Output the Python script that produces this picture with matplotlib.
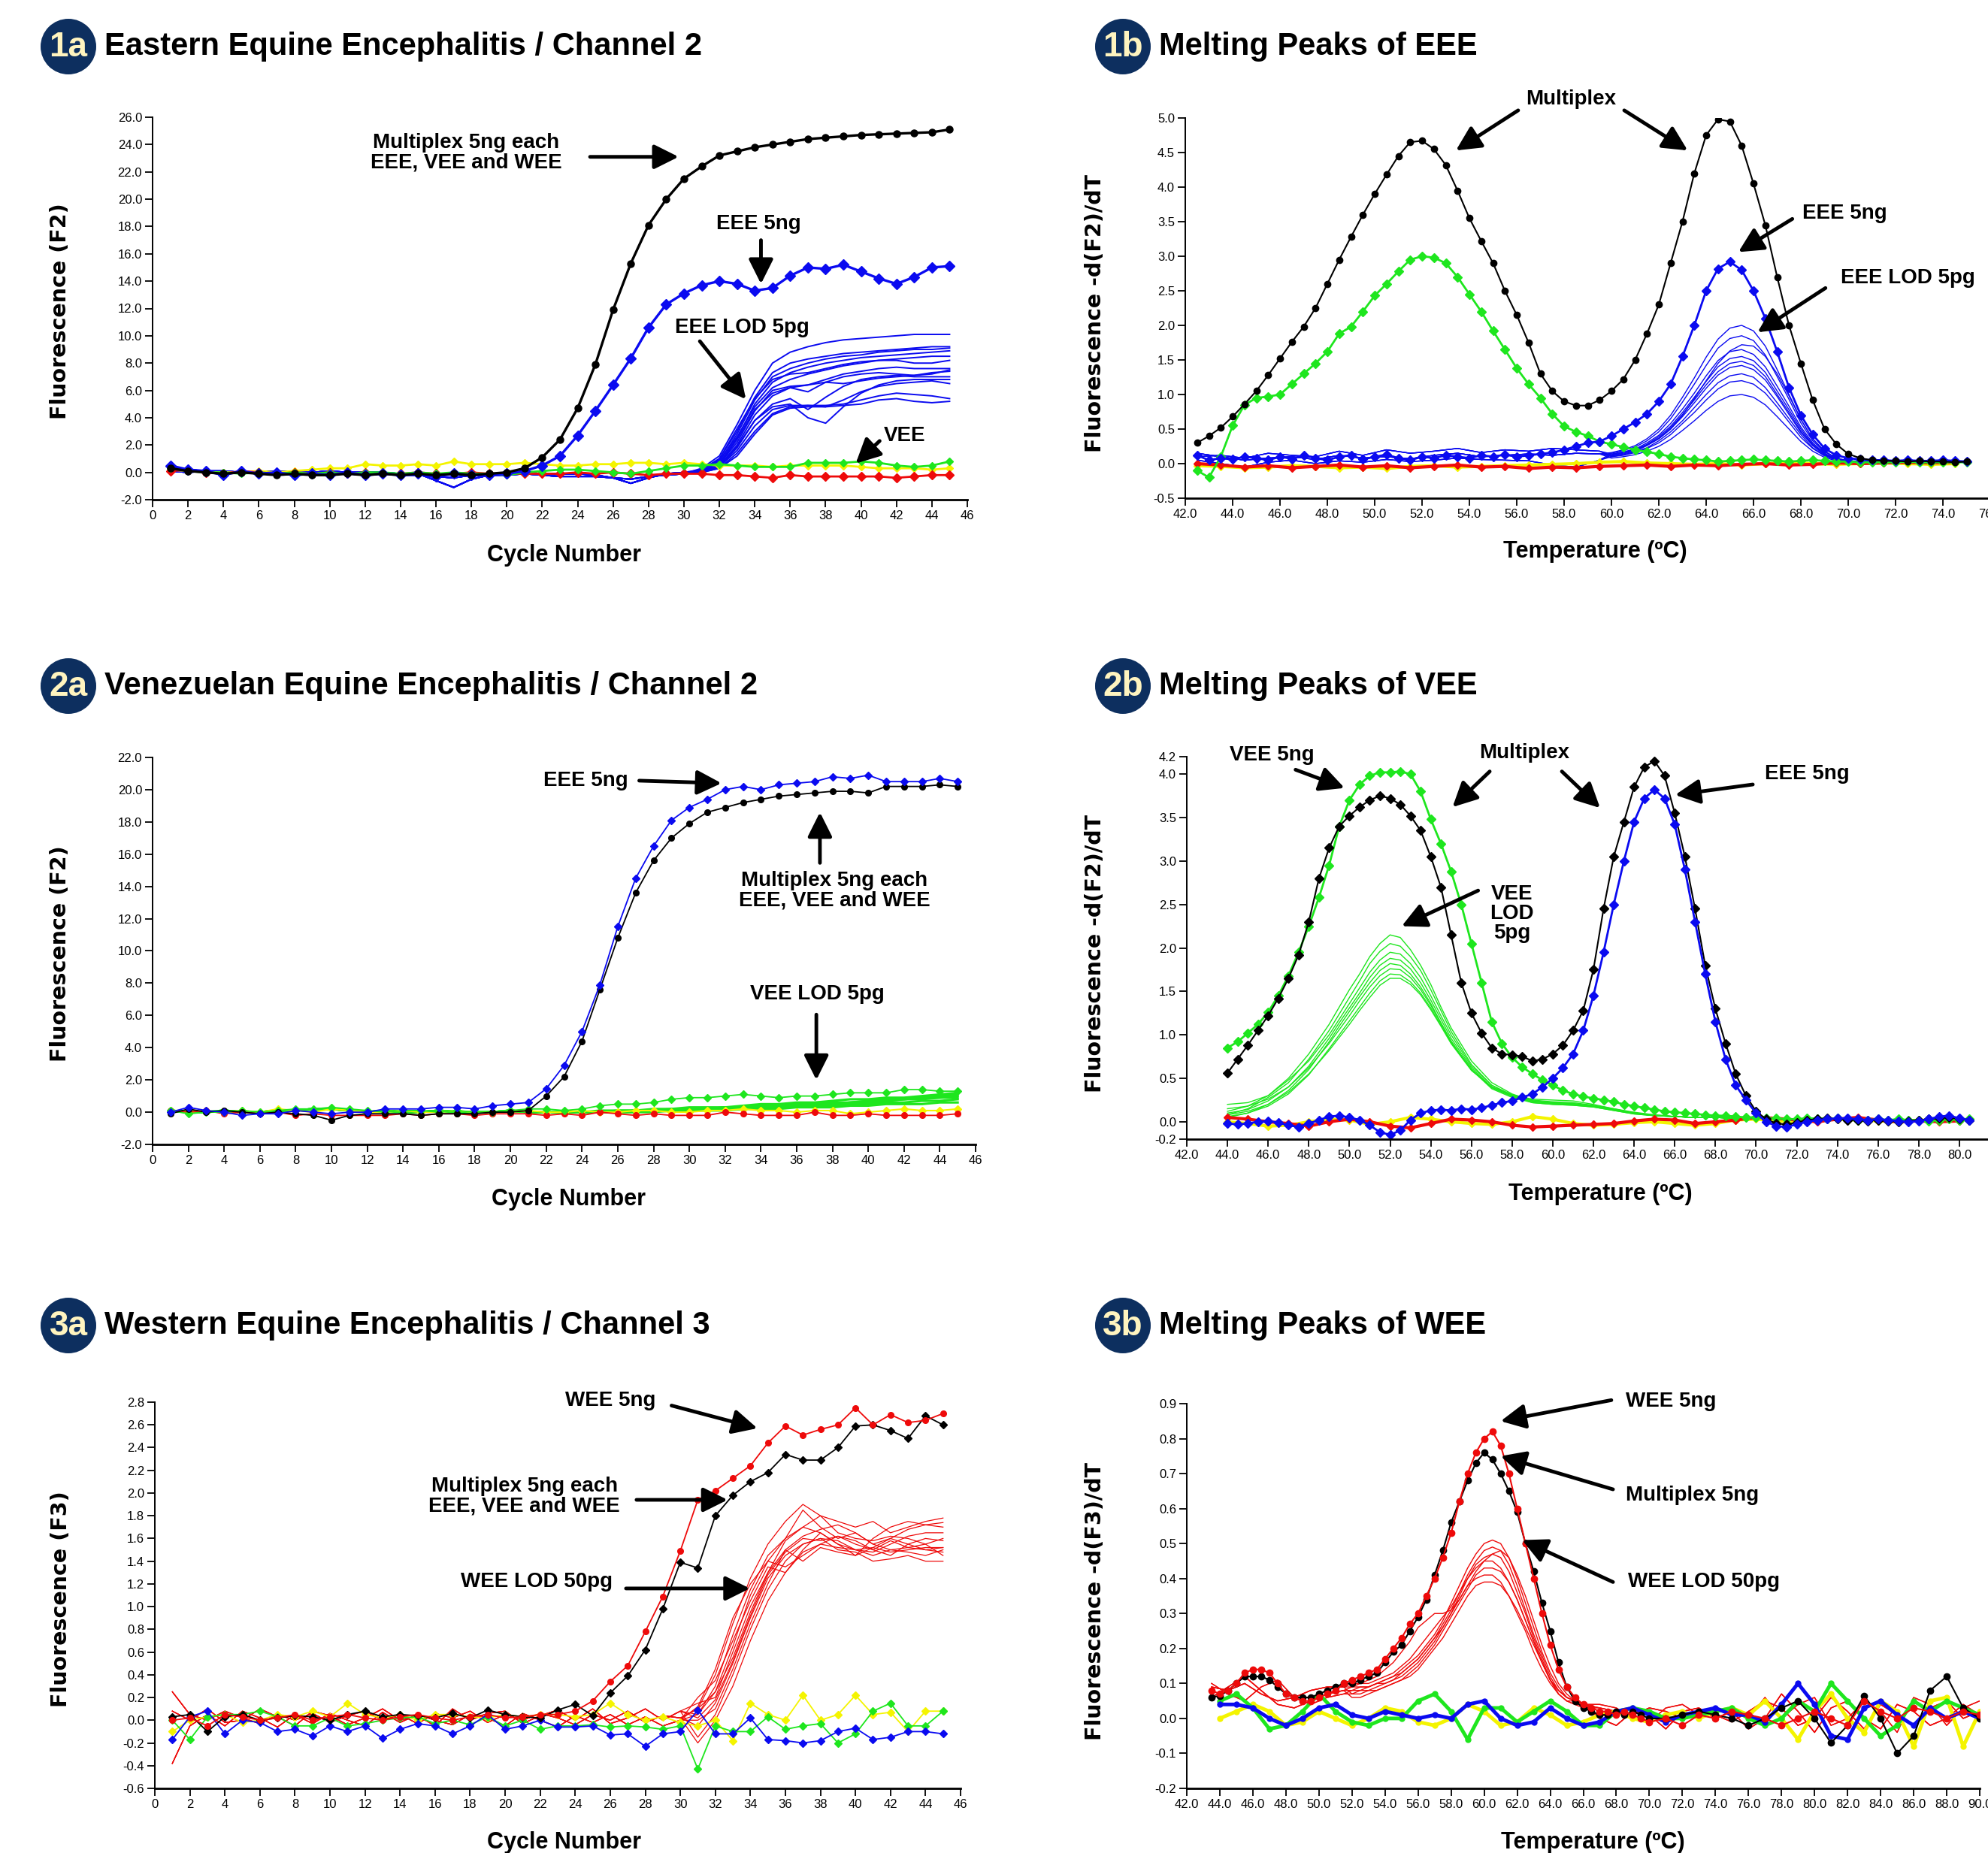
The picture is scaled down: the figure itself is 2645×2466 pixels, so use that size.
import numpy as np
import matplotlib
matplotlib.use("Agg")
import matplotlib.pyplot as plt
from matplotlib.patches import Ellipse

plt.rcParams['font.family'] = ['Liberation Sans', 'DejaVu Sans']

W, H = 2645, 2466

BLACK = '#000000'
BLUE = '#0a0af0'
GREEN = '#1ee61e'
RED = '#ee0a0a'
YELLOW = '#f4f400'
NAVY = '#0d2f5f'
CREAM = '#fff4bf'

# ---------------- 1a: EEE amplification (cycles 1..45) ----------------
cycles = np.arange(1, 46)

mpx_1a = [0.3, 0.1, 0.0, -0.1, 0.0, -0.1, -0.2, -0.1, -0.2, -0.2,
          -0.1, -0.2, -0.1, -0.2, -0.1, -0.2, -0.1, -0.2, -0.1, 0.0,
          0.3, 1.1, 2.4, 4.7, 7.9, 11.9, 15.3, 18.1, 20.0, 21.5,
          22.4, 23.2, 23.5, 23.8, 24.0, 24.2, 24.4, 24.5, 24.6, 24.7,
          24.75, 24.8, 24.85, 24.9, 25.1]
eee5_1a = [0.5, 0.2, 0.1, -0.2, 0.1, -0.1, 0.0, -0.2, -0.1, -0.2,
           0.0, -0.2, -0.1, -0.2, -0.1, -0.3, -0.1, -0.2, -0.2, -0.1,
           0.1, 0.5, 1.2, 2.7, 4.5, 6.4, 8.35, 10.6, 12.3, 13.1,
           13.7, 14.0, 13.8, 13.3, 13.5, 14.4, 15.0, 14.9, 15.2, 14.7,
           14.2, 13.8, 14.3, 15.0, 15.1]
vee_1a = [0.3, 0.1, 0.0, 0.0, -0.1, 0.0, -0.1, 0.0, -0.1, 0.0,
          -0.1, 0.0, 0.0, -0.1, 0.0, -0.1, 0.0, -0.1, -0.1, -0.2,
          0.0, 0.1, 0.2, 0.2, 0.1, 0.0, -0.1, 0.1, 0.3, 0.5,
          0.5, 0.6, 0.5, 0.4, 0.4, 0.4, 0.7, 0.7, 0.7, 0.8,
          0.7, 0.5, 0.4, 0.5, 0.8]
yellow_1a = [0.2, 0.1, 0.0, 0.0, 0.0, 0.1, 0.0, 0.1, 0.2, 0.3,
             0.3, 0.6, 0.5, 0.5, 0.6, 0.5, 0.8, 0.6, 0.6, 0.6,
             0.7, 0.6, 0.5, 0.5, 0.6, 0.6, 0.7, 0.7, 0.6, 0.7,
             0.6, 0.5, 0.5, 0.5, 0.4, 0.5, 0.5, 0.5, 0.5, 0.4,
             0.3, 0.3, 0.3, 0.2, 0.3]
red_1a = [0.1, 0.2, 0.0, -0.1, 0.1, 0.0, -0.1, 0.0, -0.1, 0.0,
          -0.1, 0.0, -0.1, -0.1, 0.0, -0.1, -0.1, 0.0, -0.1, -0.1,
          -0.1, -0.1, -0.1, 0.0, -0.1, 0.0, -0.1, -0.2, -0.1, -0.1,
          -0.1, -0.2, -0.2, -0.3, -0.4, -0.2, -0.3, -0.3, -0.3, -0.3,
          -0.3, -0.4, -0.3, -0.2, -0.2]
# EEE LOD 5pg replicates: baselines for cycles 1..30, individual curves for 31..45
lod_1a_base = [
    [0.4, 0.2, 0.1, 0.0, 0.0, -0.1, -0.1, -0.2, -0.1, -0.1, -0.1, -0.2, -0.1, -0.2, -0.2,
     -0.3, -0.4, -0.2, -0.2, -0.2, -0.1, -0.2, -0.3, -0.3, -0.3, -0.4, -0.5, -0.3, -0.2, -0.1],
    [0.1, 0.0, 0.1, 0.1, 0.0, 0.0, 0.1, 0.0, 0.0, 0.1, 0.0, 0.0, 0.0, -0.1, -0.1,
     -0.6, -1.1, -0.5, -0.2, -0.1, 0.0, -0.1, -0.1, -0.1, -0.2, -0.4, -0.8, -0.4, -0.1, 0.0],
]
lod_1a_rise = [
    [0.3, 1.2, 3.5, 6.0, 8.0, 8.8, 9.2, 9.5, 9.7, 9.8, 9.9, 10.0, 10.1, 10.1, 10.1],
    [0.2, 1.0, 3.0, 5.5, 7.3, 8.0, 8.3, 8.5, 8.7, 8.8, 8.9, 9.0, 9.1, 9.2, 9.2],
    [0.2, 0.8, 2.8, 5.3, 7.0, 7.6, 8.0, 8.3, 8.5, 8.6, 8.8, 8.9, 9.0, 9.0, 9.1],
    [0.1, 0.7, 2.5, 5.0, 6.6, 7.3, 7.7, 8.0, 8.2, 8.4, 8.5, 8.6, 8.7, 8.8, 8.9],
    [0.2, 0.9, 2.6, 4.8, 6.2, 6.8, 7.2, 7.5, 7.8, 8.0, 8.2, 8.3, 8.4, 8.5, 8.5],
    [0.1, 0.6, 2.2, 4.5, 6.0, 6.3, 6.4, 6.8, 7.2, 7.4, 7.6, 7.7, 7.6, 7.6, 7.6],
    [0.1, 0.5, 2.0, 4.2, 5.6, 6.2, 5.9, 6.6, 7.0, 7.2, 7.3, 7.2, 7.1, 7.3, 7.4],
    [0.1, 0.4, 1.8, 3.8, 5.0, 5.4, 4.6, 5.5, 6.3, 6.8, 7.0, 7.1, 7.0, 7.0, 7.0],
    [0.1, 0.5, 1.9, 3.8, 4.8, 5.0, 4.0, 3.6, 4.8, 5.8, 6.4, 6.7, 6.8, 6.8, 6.8],
    [0.0, 0.4, 1.6, 3.4, 4.6, 4.9, 4.9, 4.8, 5.3, 5.9, 6.3, 6.5, 6.6, 6.7, 6.5],
    [0.0, 0.3, 1.4, 3.0, 4.3, 4.8, 4.9, 4.9, 5.0, 5.3, 5.6, 5.8, 5.7, 5.6, 5.4],
    [0.0, 0.3, 1.2, 2.8, 4.2, 4.7, 4.8, 4.8, 4.9, 5.0, 5.3, 5.4, 5.2, 5.1, 5.2],
    [0.2, 1.0, 3.2, 5.4, 6.8, 7.2, 7.3, 7.6, 7.9, 8.1, 8.2, 8.2, 8.0, 8.0, 8.2],
    [0.1, 0.6, 2.4, 4.6, 5.8, 6.2, 6.4, 6.6, 6.5, 6.7, 6.9, 7.0, 7.1, 7.2, 7.5],
]

# ---------------- 1b: EEE melting peaks ----------------
t_1b = np.arange(42.5, 75.01, 0.5)
t_1b_coarse = np.arange(42.5, 75.01, 1.0)
mpx_1b = [0.30, 0.40, 0.52, 0.68, 0.86, 1.05, 1.28, 1.52, 1.76, 1.98,
          2.25, 2.60, 2.95, 3.28, 3.60, 3.90, 4.18, 4.45, 4.65, 4.67,
          4.55, 4.32, 3.95, 3.55, 3.22, 2.90, 2.50, 2.15, 1.75, 1.30,
          1.05, 0.90, 0.84, 0.84, 0.92, 1.05, 1.22, 1.50, 1.88, 2.30,
          2.90, 3.50, 4.20, 4.75, 4.98, 4.95, 4.60, 4.05, 3.45, 2.70,
          2.00, 1.45, 0.92, 0.50, 0.28, 0.14, 0.08, 0.05, 0.04, 0.04,
          0.03, 0.04, 0.03, 0.03, 0.02, 0.03]
vee_1b = [-0.10, -0.20, 0.10, 0.55, 0.85, 0.95, 0.97, 1.00, 1.15, 1.30,
          1.45, 1.62, 1.88, 1.98, 2.20, 2.43, 2.60, 2.78, 2.95, 3.00,
          2.98, 2.90, 2.70, 2.45, 2.20, 1.92, 1.65, 1.38, 1.15, 0.95,
          0.72, 0.54, 0.46, 0.40, 0.32, 0.28, 0.24, 0.20, 0.17, 0.14,
          0.10, 0.08, 0.06, 0.05, 0.03, 0.04, 0.05, 0.06, 0.05, 0.04,
          0.03, 0.04, 0.05, 0.04, 0.03, 0.03, 0.02, 0.02, 0.02, 0.02,
          0.03, 0.02, 0.02, 0.02, 0.02, 0.02]
eee5_1b = [0.12, 0.05, 0.08, 0.06, 0.10, 0.08, 0.05, 0.10, 0.07, 0.12,
           0.08, 0.05, 0.10, 0.12, 0.06, 0.10, 0.13, 0.08, 0.05, 0.10,
           0.08, 0.12, 0.10, 0.08, 0.12, 0.10, 0.13, 0.10, 0.12, 0.14,
           0.16, 0.20, 0.25, 0.30, 0.32, 0.40, 0.50, 0.60, 0.72, 0.90,
           1.15, 1.55, 2.00, 2.50, 2.82, 2.92, 2.80, 2.50, 2.10, 1.62,
           1.10, 0.70, 0.42, 0.22, 0.12, 0.08, 0.06, 0.05, 0.05, 0.04,
           0.05, 0.04, 0.04, 0.05, 0.04, 0.03]
red_1b = [0.00, -0.02, -0.05, -0.03, -0.06, -0.04, -0.02, -0.05, -0.03, -0.06,
          -0.04, -0.02, -0.05, -0.04, -0.07, -0.05, -0.06, -0.04, -0.03, -0.02,
          -0.04, -0.02, -0.03, -0.01, 0.00, -0.02, -0.01, 0.01, 0.00, 0.01,
          0.02, 0.01, 0.02]
yellow_1b = [-0.03, -0.04, -0.06, -0.05, -0.03, -0.04, -0.06, -0.05, -0.07, -0.04,
             -0.03, -0.05, -0.04, -0.03, -0.02, -0.01, 0.00, 0.02, 0.03, 0.01,
             0.00, -0.01, 0.00, -0.02, 0.00, 0.01, 0.00, -0.01, 0.00, 0.01,
             0.00, -0.01, 0.00]
# EEE LOD replicates: baseline 42.5..59.5 (1 degC), peak 60..70 (0.5 degC), tail 71..75
t_1b_lod = np.concatenate([np.arange(42.5, 59.6, 1.0), np.arange(60.0, 70.01, 0.5),
                           np.arange(71.0, 75.01, 1.0)])
lod_1b_base = [
    [0.15, 0.10, 0.05, 0.08, 0.10, 0.06, 0.12, 0.08, 0.10, 0.07, 0.12, 0.15, 0.10, 0.12, 0.14, 0.12, 0.15, 0.14],
    [0.05, 0.00, -0.05, 0.02, 0.05, 0.00, 0.04, 0.02, 0.06, 0.03, 0.05, 0.08, 0.06, 0.05, 0.04, -0.02, -0.05, 0.05],
    [0.10, 0.12, 0.08, 0.15, 0.12, 0.10, 0.18, 0.12, 0.20, 0.15, 0.18, 0.22, 0.16, 0.20, 0.18, 0.22, 0.20, 0.18],
]
lod_1b_peak = [
    [0.16, 0.20, 0.26, 0.36, 0.50, 0.70, 0.96, 1.24, 1.54, 1.80, 1.96, 2.00, 1.92, 1.70, 1.36, 1.00, 0.64, 0.36, 0.18, 0.08, 0.04],
    [0.15, 0.19, 0.24, 0.33, 0.46, 0.65, 0.89, 1.15, 1.42, 1.67, 1.81, 1.85, 1.78, 1.57, 1.26, 0.93, 0.59, 0.33, 0.17, 0.08, 0.04],
    [0.14, 0.17, 0.20, 0.27, 0.36, 0.50, 0.70, 0.94, 1.20, 1.45, 1.63, 1.72, 1.70, 1.55, 1.30, 0.98, 0.64, 0.36, 0.18, 0.08, 0.03],
    [0.13, 0.17, 0.21, 0.30, 0.41, 0.58, 0.79, 1.02, 1.27, 1.49, 1.62, 1.65, 1.58, 1.40, 1.12, 0.83, 0.53, 0.30, 0.15, 0.07, 0.03],
    [0.12, 0.16, 0.20, 0.28, 0.39, 0.54, 0.74, 0.96, 1.19, 1.40, 1.52, 1.55, 1.49, 1.32, 1.05, 0.78, 0.50, 0.28, 0.14, 0.06, 0.03],
    [0.12, 0.15, 0.19, 0.27, 0.37, 0.52, 0.71, 0.92, 1.14, 1.33, 1.45, 1.48, 1.42, 1.26, 1.00, 0.74, 0.47, 0.27, 0.13, 0.06, 0.03],
    [0.11, 0.14, 0.18, 0.26, 0.36, 0.50, 0.68, 0.88, 1.09, 1.28, 1.39, 1.42, 1.36, 1.21, 0.97, 0.71, 0.45, 0.26, 0.13, 0.06, 0.03],
    [0.10, 0.13, 0.17, 0.23, 0.33, 0.46, 0.62, 0.81, 1.00, 1.17, 1.27, 1.30, 1.25, 1.10, 0.88, 0.65, 0.42, 0.23, 0.12, 0.05, 0.03],
    [0.10, 0.12, 0.16, 0.22, 0.30, 0.42, 0.58, 0.74, 0.92, 1.08, 1.18, 1.20, 1.15, 1.02, 0.82, 0.60, 0.38, 0.22, 0.11, 0.05, 0.02],
    [0.08, 0.10, 0.13, 0.18, 0.25, 0.35, 0.48, 0.62, 0.77, 0.90, 0.98, 1.00, 0.96, 0.85, 0.68, 0.50, 0.32, 0.18, 0.09, 0.04, 0.02],
]
lod_1b_tail = [0.03, 0.02, 0.03, 0.02, 0.03]

# ---------------- 2a: VEE amplification ----------------
eee5_2a = [0.0, 0.3, 0.1, 0.0, -0.2, -0.1, -0.1, 0.1, 0.0, -0.1,
           0.0, 0.0, 0.2, 0.2, 0.2, 0.3, 0.3, 0.2, 0.4, 0.5,
           0.6, 1.45, 2.9, 5.0, 7.9, 11.5, 14.5, 16.5, 18.1, 18.9,
           19.4, 20.0, 20.2, 20.0, 20.3, 20.4, 20.5, 20.8, 20.7, 20.9,
           20.5, 20.5, 20.5, 20.7, 20.5]
mpx_2a = [-0.1, 0.2, 0.0, 0.1, 0.0, -0.1, 0.0, -0.1, -0.2, -0.5,
          -0.2, -0.1, -0.1, -0.1, -0.2, -0.1, -0.1, -0.1, 0.0, 0.0,
          0.1, 1.0, 2.2, 4.4, 7.6, 10.8, 13.6, 15.6, 17.0, 17.9,
          18.6, 18.9, 19.2, 19.4, 19.6, 19.7, 19.8, 19.9, 19.9, 19.8,
          20.2, 20.2, 20.2, 20.3, 20.2]
vee_mark_2a = [0.1, -0.1, 0.0, 0.0, 0.1, 0.0, 0.1, 0.2, 0.2, 0.3,
               0.2, 0.1, 0.0, 0.1, 0.1, 0.0, 0.1, 0.0, 0.0, 0.1,
               0.2, 0.2, 0.1, 0.2, 0.4, 0.5, 0.5, 0.6, 0.8, 0.9,
               0.9, 1.0, 1.1, 1.0, 0.9, 1.0, 1.0, 1.1, 1.2, 1.2,
               1.2, 1.4, 1.4, 1.3, 1.3]
red_2a = [0.1, 0.0, 0.1, -0.1, 0.0, -0.1, 0.0, -0.2, -0.1, -0.2,
          -0.2, -0.2, -0.2, -0.1, -0.2, -0.1, -0.1, -0.2, -0.1, -0.1,
          -0.1, -0.2, -0.1, -0.2, 0.0, -0.1, -0.2, -0.1, -0.2, -0.2,
          -0.2, 0.0, -0.1, -0.2, -0.2, -0.2, 0.0, -0.2, -0.2, -0.1,
          -0.2, -0.2, -0.2, -0.2, -0.1]
yellow_2a = [0.1, 0.0, 0.1, 0.0, 0.1, 0.0, 0.2, 0.1, 0.0, 0.2,
             0.1, 0.0, 0.0, 0.1, 0.0, 0.0, 0.1, 0.0, 0.0, 0.0,
             0.1, 0.0, 0.0, 0.1, 0.0, 0.0, 0.1, 0.1, 0.0, 0.0,
             0.1, 0.1, 0.2, 0.1, 0.1, 0.0, 0.1, 0.1, -0.1, 0.0,
             0.1, 0.2, 0.1, 0.1, 0.2]
# VEE LOD replicates: shared baseline cycles 1..24, individual 25..45
lod_2a_base = [0.1, 0.0, 0.0, 0.1, 0.0, 0.0, 0.1, 0.1, 0.2, 0.2, 0.1, 0.0,
               0.1, 0.0, 0.0, 0.1, 0.0, 0.0, 0.0, 0.1, 0.0, 0.0, 0.0, 0.0]
lod_2a_rise = [
    [0.0, 0.0, 0.1, 0.1, 0.1, 0.2, 0.2, 0.3, 0.3, 0.4, 0.4, 0.5, 0.5, 0.6, 0.6, 0.7, 0.7, 0.8, 0.9, 0.9, 1.0],
    [0.0, 0.1, 0.1, 0.1, 0.2, 0.2, 0.2, 0.3, 0.3, 0.4, 0.4, 0.4, 0.5, 0.5, 0.6, 0.7, 0.8, 0.8, 0.9, 1.0, 1.1],
    [0.0, 0.0, 0.0, 0.1, 0.1, 0.1, 0.2, 0.2, 0.2, 0.3, 0.3, 0.4, 0.4, 0.4, 0.5, 0.5, 0.6, 0.6, 0.7, 0.7, 0.8],
    [0.1, 0.1, 0.1, 0.2, 0.2, 0.3, 0.3, 0.3, 0.4, 0.5, 0.5, 0.6, 0.6, 0.7, 0.8, 0.8, 0.9, 0.9, 1.0, 1.1, 1.2],
    [0.0, 0.0, 0.0, 0.0, 0.1, 0.1, 0.1, 0.1, 0.2, 0.2, 0.2, 0.3, 0.3, 0.3, 0.4, 0.4, 0.5, 0.5, 0.5, 0.6, 0.6],
    [0.0, 0.0, 0.1, 0.1, 0.1, 0.1, 0.2, 0.2, 0.3, 0.3, 0.3, 0.4, 0.5, 0.5, 0.6, 0.6, 0.7, 0.8, 0.8, 0.9, 0.9],
]

# ---------------- 2b: VEE melting peaks ----------------
t_2b = np.arange(44.0, 80.51, 0.5)
t_2b_coarse = np.arange(44.0, 80.1, 1.0)
vee5_2b = [0.85, 0.92, 1.02, 1.12, 1.26, 1.45, 1.68, 1.95, 2.25, 2.58,
           2.95, 3.40, 3.70, 3.88, 3.98, 4.02, 4.02, 4.03, 4.00, 3.80,
           3.48, 3.20, 2.88, 2.50, 2.05, 1.60, 1.15, 0.90, 0.74, 0.63,
           0.55, 0.48, 0.42, 0.36, 0.32, 0.29, 0.27, 0.25, 0.23, 0.20,
           0.18, 0.16, 0.14, 0.12, 0.11, 0.10, 0.09, 0.08, 0.07, 0.07,
           0.06, 0.05, 0.05, 0.04, 0.04, 0.03, 0.03, 0.04, 0.03, 0.03,
           0.04, 0.03, 0.02, 0.02, 0.03, 0.02, 0.03, 0.02, 0.02, 0.01,
           0.02, 0.03, 0.02, 0.03]
mpx_2b = [0.56, 0.72, 0.88, 1.05, 1.22, 1.42, 1.65, 1.92, 2.30, 2.80,
          3.15, 3.40, 3.52, 3.62, 3.70, 3.75, 3.72, 3.65, 3.52, 3.35,
          3.05, 2.70, 2.15, 1.60, 1.25, 1.02, 0.85, 0.78, 0.77, 0.75,
          0.70, 0.72, 0.78, 0.88, 1.05, 1.28, 1.75, 2.45, 3.05, 3.45,
          3.85, 4.08, 4.15, 3.98, 3.55, 3.05, 2.45, 1.80, 1.30, 0.90,
          0.55, 0.30, 0.12, 0.03, -0.02, -0.03, -0.01, 0.02, 0.03, 0.04,
          0.03, 0.02, 0.02, 0.01, 0.02, 0.01, 0.00, 0.01, 0.02, 0.03,
          0.04, 0.05, 0.03, 0.02]
eee5_2b = [-0.02, -0.03, -0.02, 0.00, 0.01, -0.01, -0.04, -0.06, -0.02, 0.02,
           0.06, 0.07, 0.05, 0.02, -0.04, -0.12, -0.15, -0.10, 0.02, 0.10,
           0.13, 0.14, 0.13, 0.15, 0.14, 0.16, 0.19, 0.22, 0.24, 0.28,
           0.32, 0.40, 0.50, 0.62, 0.78, 1.05, 1.45, 1.95, 2.50, 3.00,
           3.45, 3.72, 3.82, 3.72, 3.42, 2.90, 2.30, 1.70, 1.15, 0.72,
           0.42, 0.25, 0.10, 0.00, -0.05, -0.06, -0.03, 0.00, 0.02, 0.03,
           0.04, 0.04, 0.03, 0.02, 0.03, 0.02, 0.01, 0.00, 0.01, 0.03,
           0.06, 0.07, 0.04, 0.02]
red_2b = [0.05, 0.03, 0.00, -0.02, -0.05, 0.00, 0.03, 0.00, -0.05, -0.07,
          -0.02, 0.03, 0.02, 0.00, -0.04, -0.06, -0.05, -0.04, -0.03, -0.02,
          0.01, 0.03, 0.02, -0.02, 0.00, 0.02, 0.05, 0.04, 0.02, 0.00,
          0.03, 0.05, 0.02, 0.00, 0.01, 0.00, 0.01]
yellow_2b = [0.00, -0.02, -0.05, -0.04, 0.00, 0.03, 0.02, -0.03, 0.00, 0.05,
             0.03, 0.00, -0.02, -0.03, 0.00, 0.06, 0.03, -0.02, -0.04, -0.03,
             -0.01, 0.00, -0.02, -0.04, -0.02, 0.02, 0.03, 0.01, 0.00, 0.02,
             0.03, 0.02, 0.01, 0.00, 0.02, 0.01, 0.02]
t_2b_lod = np.array([44, 45, 46, 47, 48, 49, 49.5, 50, 50.5, 51, 51.5, 52, 52.5, 53, 53.5,
                     54, 54.5, 55, 56, 57, 58, 59, 60, 61, 62, 63, 64, 65,
                     66, 67, 68, 69, 70, 71, 72, 73, 74, 75, 76, 77, 78, 79, 80])
lod_2b_peak = [
    [0.12, 0.18, 0.30, 0.50, 0.78, 1.12, 1.32, 1.52, 1.70, 1.90, 2.05, 2.15, 2.12, 1.98, 1.80, 1.58, 1.32, 1.08, 0.70, 0.45, 0.32, 0.24, 0.21, 0.20, 0.18, 0.14, 0.10, 0.08],
    [0.08, 0.15, 0.28, 0.45, 0.72, 1.05, 1.24, 1.43, 1.62, 1.82, 1.96, 2.05, 2.02, 1.90, 1.74, 1.52, 1.28, 1.04, 0.66, 0.42, 0.30, 0.22, 0.20, 0.19, 0.17, 0.13, 0.09, 0.07],
    [0.20, 0.22, 0.30, 0.48, 0.70, 1.00, 1.18, 1.36, 1.54, 1.72, 1.86, 1.95, 1.93, 1.82, 1.66, 1.45, 1.22, 1.00, 0.64, 0.42, 0.31, 0.25, 0.23, 0.22, 0.19, 0.15, 0.11, 0.08],
    [0.10, 0.14, 0.24, 0.40, 0.64, 0.96, 1.14, 1.31, 1.48, 1.66, 1.80, 1.88, 1.86, 1.76, 1.60, 1.40, 1.18, 0.96, 0.62, 0.40, 0.30, 0.24, 0.22, 0.21, 0.18, 0.14, 0.10, 0.07],
    [0.05, 0.10, 0.20, 0.36, 0.60, 0.92, 1.10, 1.27, 1.44, 1.60, 1.74, 1.82, 1.80, 1.70, 1.55, 1.36, 1.14, 0.93, 0.60, 0.38, 0.28, 0.22, 0.20, 0.19, 0.17, 0.13, 0.09, 0.07],
    [0.15, 0.18, 0.26, 0.40, 0.62, 0.90, 1.06, 1.22, 1.39, 1.55, 1.68, 1.76, 1.75, 1.66, 1.52, 1.34, 1.13, 0.92, 0.60, 0.39, 0.29, 0.23, 0.21, 0.20, 0.18, 0.14, 0.10, 0.07],
    [0.06, 0.10, 0.18, 0.32, 0.54, 0.84, 1.00, 1.16, 1.32, 1.48, 1.62, 1.70, 1.69, 1.61, 1.48, 1.31, 1.11, 0.91, 0.60, 0.40, 0.31, 0.26, 0.25, 0.24, 0.20, 0.15, 0.10, 0.07],
    [0.08, 0.12, 0.20, 0.34, 0.55, 0.82, 0.97, 1.12, 1.28, 1.43, 1.57, 1.65, 1.65, 1.58, 1.46, 1.29, 1.10, 0.90, 0.59, 0.40, 0.30, 0.24, 0.22, 0.21, 0.18, 0.14, 0.10, 0.07],
]
lod_2b_tail = [0.06, 0.05, 0.05, 0.04, 0.04, 0.03, 0.03, 0.04, 0.03, 0.02, 0.03, 0.02, 0.02, 0.03, 0.02]

# ---------------- 3a: WEE amplification ----------------
wee5_3a = [0.0, 0.02, -0.05, 0.05, 0.03, 0.0, 0.02, 0.05, 0.0, 0.03,
           0.05, 0.02, 0.0, 0.03, 0.05, 0.02, 0.0, 0.03, 0.05, 0.02,
           0.03, 0.05, 0.05, 0.08, 0.17, 0.34, 0.48, 0.78, 1.09, 1.49,
           1.94, 2.02, 2.13, 2.24, 2.44, 2.59, 2.51, 2.56, 2.60, 2.75,
           2.60, 2.69, 2.62, 2.64, 2.70]
mpx_3a = [0.03, 0.05, -0.10, 0.03, 0.05, 0.0, 0.02, 0.04, 0.03, 0.0,
          0.05, 0.08, 0.03, 0.05, 0.04, 0.02, 0.06, 0.02, 0.09, 0.05,
          0.03, 0.02, 0.09, 0.14, 0.04, 0.24, 0.39, 0.62, 0.98, 1.39,
          1.34, 1.80, 1.98, 2.10, 2.18, 2.34, 2.29, 2.29, 2.40, 2.59,
          2.60, 2.55, 2.48, 2.68, 2.60]
yellow_3a = [-0.10, 0.0, 0.03, 0.05, -0.02, 0.0, 0.05, 0.03, 0.08, 0.03,
             0.15, 0.05, 0.02, 0.05, 0.0, 0.05, 0.05, 0.03, 0.02, 0.05,
             0.03, 0.05, 0.05, 0.03, 0.05, 0.15, 0.05, 0.0, 0.03, -0.02,
             -0.05, 0.0, -0.18, 0.15, 0.05, 0.0, 0.22, 0.0, 0.05, 0.22,
             0.05, 0.07, -0.10, 0.08, 0.08]
green_3a = [0.0, -0.17, 0.03, 0.05, 0.05, 0.08, 0.03, -0.05, -0.05, 0.02,
            -0.05, -0.03, 0.0, 0.02, 0.03, -0.03, 0.0, -0.04, 0.03, -0.05,
            0.0, -0.08, -0.05, -0.05, -0.04, -0.06, -0.05, -0.06, -0.08, -0.05,
            -0.43, -0.05, -0.10, -0.10, 0.03, -0.08, -0.05, -0.03, -0.20, -0.12,
            0.08, 0.15, -0.05, -0.05, 0.08]
blue_3a = [-0.17, 0.03, 0.08, -0.12, 0.0, -0.02, -0.10, -0.08, -0.14, -0.05,
           -0.10, -0.05, -0.16, -0.08, -0.03, -0.05, -0.12, -0.05, 0.05, -0.08,
           -0.05, 0.0, -0.06, -0.06, -0.05, -0.13, -0.12, -0.23, -0.12, -0.10,
           0.09, -0.12, -0.12, 0.02, -0.17, -0.18, -0.20, -0.18, -0.10, -0.07,
           -0.17, -0.15, -0.10, -0.10, -0.12]
lod_3a_base = [
    [0.25, 0.05, 0.0, 0.08, 0.02, -0.03, 0.05, 0.0, 0.06, -0.02, 0.04, 0.08, 0.0, 0.05, -0.03,
     0.06, 0.02, 0.08, -0.02, 0.05, 0.0, 0.06, 0.02, -0.04, 0.05, 0.0, 0.08, -0.02, 0.04, 0.02],
    [-0.38, -0.05, 0.05, -0.05, 0.08, 0.02, -0.06, 0.05, -0.03, 0.06, 0.0, -0.05, 0.07, -0.02, 0.05,
     0.0, -0.04, 0.05, 0.02, -0.05, 0.06, 0.0, -0.06, 0.04, -0.02, 0.05, -0.04, 0.03, -0.05, 0.0],
    [0.08, 0.0, 0.10, -0.02, 0.0, 0.10, 0.03, -0.05, 0.08, 0.04, -0.04, 0.02, 0.10, 0.0, 0.04,
     -0.05, 0.10, 0.0, 0.06, 0.08, -0.03, 0.04, 0.09, 0.0, 0.10, -0.03, 0.02, 0.10, 0.0, 0.08],
]
lod_3a_rise = [
    [0.10, 0.40, 0.85, 1.25, 1.55, 1.75, 1.90, 1.80, 1.75, 1.70, 1.75, 1.65, 1.70, 1.75, 1.78],
    [0.05, 0.30, 0.75, 1.15, 1.45, 1.60, 1.70, 1.80, 1.65, 1.60, 1.58, 1.62, 1.60, 1.55, 1.60],
    [0.15, 0.20, 0.60, 1.00, 1.30, 1.50, 1.62, 1.68, 1.72, 1.65, 1.55, 1.50, 1.52, 1.50, 1.48],
    [-0.05, 0.15, 0.50, 0.90, 1.25, 1.45, 1.55, 1.60, 1.58, 1.50, 1.52, 1.48, 1.50, 1.52, 1.52],
    [0.20, 0.35, 0.70, 1.05, 1.35, 1.30, 1.50, 1.65, 1.55, 1.45, 1.60, 1.70, 1.75, 1.72, 1.70],
    [-0.15, 0.05, 0.40, 0.80, 1.15, 1.40, 1.55, 1.60, 1.50, 1.48, 1.40, 1.42, 1.45, 1.40, 1.40],
    [0.10, 0.25, 0.65, 1.10, 1.40, 1.35, 1.45, 1.55, 1.62, 1.58, 1.50, 1.45, 1.55, 1.60, 1.58],
    [0.00, 0.10, 0.45, 0.85, 1.20, 1.50, 1.40, 1.52, 1.48, 1.45, 1.52, 1.60, 1.55, 1.50, 1.52],
    [0.05, 0.25, 0.55, 0.95, 1.30, 1.58, 1.70, 1.65, 1.55, 1.50, 1.48, 1.55, 1.62, 1.65, 1.65],
    [-0.20, 0.00, 0.30, 0.70, 1.05, 1.30, 1.48, 1.55, 1.52, 1.50, 1.45, 1.50, 1.48, 1.45, 1.50],
    [0.12, 0.45, 0.90, 1.20, 1.40, 1.60, 1.85, 1.70, 1.60, 1.65, 1.55, 1.60, 1.68, 1.72, 1.74],
    [0.02, 0.18, 0.52, 0.92, 1.28, 1.48, 1.60, 1.58, 1.62, 1.55, 1.50, 1.58, 1.52, 1.55, 1.45],
]

# ---------------- 3b: WEE melting peaks ----------------
t_3b = np.concatenate([np.arange(43.5, 70.01, 0.5), np.arange(71.0, 90.01, 1.0)])
t_3b_coarse = np.arange(44.0, 90.1, 1.0)
wee5_3b = [0.08, 0.07, 0.08, 0.10, 0.13, 0.14, 0.14, 0.13, 0.10, 0.07,
           0.06, 0.05, 0.05, 0.06, 0.07, 0.08, 0.10, 0.11, 0.12, 0.13,
           0.14, 0.17, 0.20, 0.23, 0.27, 0.30, 0.35, 0.40, 0.46, 0.53,
           0.62, 0.70, 0.76, 0.80, 0.82, 0.78, 0.70, 0.60, 0.50, 0.40,
           0.30, 0.21, 0.14, 0.09, 0.06, 0.04, 0.03, 0.02, 0.02, 0.01,
           0.02, 0.01, 0.00, -0.01,
           0.00, -0.02, 0.01, 0.00, 0.02, 0.01, 0.00, -0.02, 0.00, 0.02,
           0.00, -0.02, 0.05, 0.02, 0.00, 0.03, 0.02, 0.00, 0.02, 0.01]
mpx_3b = [0.06, 0.065, 0.08, 0.10, 0.12, 0.12, 0.12, 0.11, 0.09, 0.07,
          0.06, 0.06, 0.06, 0.07, 0.08, 0.09, 0.10, 0.10, 0.11, 0.12,
          0.13, 0.16, 0.19, 0.21, 0.25, 0.29, 0.34, 0.41, 0.48, 0.56,
          0.62, 0.68, 0.73, 0.76, 0.74, 0.70, 0.65, 0.59, 0.50, 0.42,
          0.33, 0.25, 0.16, 0.09, 0.05, 0.03, 0.02, 0.01, 0.01, 0.02,
          0.01, 0.02, 0.01, 0.00,
          0.00, 0.01, 0.02, 0.01, 0.00, -0.02, 0.00, 0.03, 0.05, 0.00,
          -0.07, -0.02, 0.065, 0.00, -0.10, -0.05, 0.08, 0.12, 0.03, 0.00]
green_3b = [0.05, 0.07, 0.03, -0.03, -0.02, 0.02, 0.07, 0.02, -0.01, -0.02,
            0.00, 0.00, 0.05, 0.07, 0.02, -0.06, 0.03, 0.03, -0.01, 0.02,
            0.05, 0.02, -0.02, -0.02, 0.02, 0.03, 0.02, 0.00, 0.00, 0.01,
            0.02, 0.03, 0.00, -0.02, 0.00, 0.05, 0.02, 0.10, 0.05, 0.00,
            -0.05, -0.02, 0.05, 0.02, 0.05, 0.03, 0.01]
blue_3b = [0.04, 0.04, 0.03, 0.00, -0.02, 0.00, 0.03, 0.04, 0.01, 0.00,
           0.02, 0.01, 0.00, 0.01, 0.00, 0.04, 0.05, 0.00, -0.02, -0.01,
           0.03, 0.00, -0.02, -0.01, 0.02, 0.03, 0.01, -0.01, 0.01, 0.02,
           0.03, 0.01, 0.01, -0.01, 0.04, 0.10, 0.04, -0.05, -0.06, 0.03,
           0.05, 0.01, -0.02, 0.03, 0.00, 0.02, 0.00]
yellow_3b = [0.00, 0.02, 0.04, 0.02, -0.02, -0.01, 0.02, 0.00, -0.02, 0.00,
             0.03, 0.02, -0.01, -0.02, 0.00, 0.04, 0.02, -0.02, -0.01, 0.03,
             0.01, -0.02, -0.01, 0.01, 0.02, 0.00, -0.01, 0.01, 0.02, 0.00,
             0.02, 0.03, 0.01, 0.05, 0.00, -0.06, 0.02, 0.07, 0.00, -0.04,
             0.05, 0.02, -0.08, 0.05, 0.06, -0.08, 0.02]
t_3b_lod = np.concatenate([np.arange(43.5, 51.6, 1.0), np.arange(52.0, 66.01, 0.5),
                           np.arange(67.0, 90.01, 1.0)])
lod_3b_pre = [
    [0.09, 0.08, 0.10, 0.07, 0.05, 0.06, 0.08, 0.09, 0.09],
    [0.06, 0.09, 0.12, 0.08, 0.04, 0.03, 0.05, 0.07, 0.08],
    [0.10, 0.07, 0.05, 0.09, 0.11, 0.06, 0.04, 0.06, 0.07],
]
lod_3b_peak = [
    [0.09, 0.09, 0.09, 0.10, 0.11, 0.12, 0.14, 0.16, 0.18, 0.21, 0.24, 0.28, 0.33, 0.38, 0.43, 0.47, 0.50, 0.51, 0.50, 0.46, 0.40, 0.33, 0.26, 0.19, 0.13, 0.09, 0.06, 0.05, 0.04],
    [0.08, 0.08, 0.09, 0.10, 0.10, 0.11, 0.13, 0.15, 0.17, 0.20, 0.23, 0.27, 0.31, 0.36, 0.41, 0.45, 0.48, 0.49, 0.48, 0.44, 0.38, 0.31, 0.24, 0.18, 0.12, 0.08, 0.06, 0.05, 0.04],
    [0.07, 0.08, 0.08, 0.09, 0.10, 0.11, 0.12, 0.14, 0.16, 0.19, 0.22, 0.26, 0.30, 0.35, 0.40, 0.44, 0.46, 0.47, 0.46, 0.42, 0.36, 0.30, 0.23, 0.17, 0.11, 0.08, 0.06, 0.05, 0.04],
    [0.10, 0.10, 0.10, 0.11, 0.12, 0.13, 0.15, 0.17, 0.20, 0.23, 0.26, 0.29, 0.32, 0.36, 0.40, 0.43, 0.45, 0.45, 0.43, 0.39, 0.34, 0.28, 0.22, 0.16, 0.11, 0.07, 0.05, 0.04, 0.03],
    [0.06, 0.06, 0.07, 0.08, 0.09, 0.10, 0.11, 0.13, 0.15, 0.18, 0.21, 0.25, 0.29, 0.33, 0.37, 0.41, 0.43, 0.43, 0.42, 0.39, 0.34, 0.28, 0.22, 0.16, 0.11, 0.07, 0.05, 0.04, 0.04],
    [0.08, 0.09, 0.09, 0.10, 0.11, 0.12, 0.13, 0.15, 0.17, 0.20, 0.23, 0.26, 0.30, 0.34, 0.38, 0.40, 0.41, 0.41, 0.39, 0.35, 0.30, 0.25, 0.19, 0.14, 0.10, 0.07, 0.05, 0.05, 0.04],
    [0.07, 0.07, 0.08, 0.08, 0.09, 0.10, 0.11, 0.12, 0.14, 0.17, 0.20, 0.23, 0.27, 0.31, 0.35, 0.38, 0.39, 0.39, 0.38, 0.35, 0.31, 0.26, 0.21, 0.16, 0.11, 0.08, 0.06, 0.05, 0.04],
    [0.09, 0.10, 0.11, 0.12, 0.14, 0.16, 0.19, 0.22, 0.26, 0.28, 0.30, 0.30, 0.31, 0.34, 0.38, 0.42, 0.45, 0.47, 0.48, 0.46, 0.41, 0.35, 0.28, 0.21, 0.15, 0.10, 0.07, 0.05, 0.04],
]
lod_3b_post = [
    [0.03, 0.02, 0.01, 0.03, 0.02, 0.00, 0.02, 0.01, -0.01, 0.02, 0.05, 0.03, -0.02, 0.00, 0.06, 0.02, -0.03, 0.04, 0.01, -0.02, 0.03, 0.05, 0.00, 0.02],
    [0.00, -0.02, 0.02, 0.01, -0.03, 0.02, 0.03, 0.00, 0.02, -0.03, 0.00, 0.07, 0.02, -0.04, 0.03, 0.05, 0.00, -0.03, 0.04, 0.02, -0.02, 0.00, 0.04, 0.01],
    [0.04, 0.03, 0.00, -0.01, 0.03, 0.04, 0.01, 0.03, 0.02, 0.00, 0.06, 0.00, 0.04, 0.06, -0.02, 0.00, 0.05, 0.02, -0.04, 0.06, 0.04, -0.02, 0.03, 0.05],
]

# ---------------- helpers ----------------
fig = plt.figure(figsize=(W / 100, H / 100), dpi=100)
fig.patch.set_facecolor('white')


def fx(x):
    return x / W


def fy(y):
    return 1 - y / H


def make_axes(box, xlim, ylim, xticks, yticks, xfmt, yfmt):
    left, top, right, bottom = box
    ax = fig.add_axes([fx(left), fy(bottom), (right - left) / W, (bottom - top) / H])
    ax.set_xlim(xlim)
    ax.set_ylim(ylim)
    ax.spines[['top', 'right']].set_visible(False)
    ax.spines['left'].set_linewidth(1.4)
    ax.spines['bottom'].set_linewidth(2.0)
    ax.set_xticks(xticks)
    ax.set_xticklabels([xfmt % v for v in xticks])
    ax.set_yticks(yticks)
    ax.set_yticklabels([yfmt % v for v in yticks])
    ax.tick_params(direction='out', length=7, width=1.3, labelsize=12, pad=3)
    return ax


def header(xc, yc, tag, title):
    r = 37
    fig.add_artist(Ellipse((fx(xc), fy(yc)), 2 * r / W, 2 * r / H,
                           transform=fig.transFigure, facecolor=NAVY, edgecolor='none'))
    fig.text(fx(xc), fy(yc + 1), tag, color=CREAM, fontsize=33, fontweight='bold',
             ha='center', va='center')
    fig.text(fx(xc + 48), fy(yc), title, fontsize=30, fontweight='bold',
             ha='left', va='center')


def labels(xlabel, xpos, ylabel, ypos):
    fig.text(fx(xpos[0]), fy(xpos[1]), xlabel, fontsize=22, fontweight='bold',
             ha='center', va='center')
    fig.text(fx(ypos[0]), fy(ypos[1]), ylabel, fontsize=20.5, fontweight='bold',
             family='DejaVu Sans', rotation=90, ha='center', va='center')


def note(ax, text, xy, start, end):
    ax.text(xy[0], xy[1], text, fontsize=20, fontweight='bold', ha='center',
            va='center', linespacing=1.0, zorder=20)
    if start is not None:
        ax.annotate('', xy=end, xytext=start, annotation_clip=False, zorder=20,
                    arrowprops=dict(arrowstyle='-|>,head_length=0.9,head_width=0.45',
                                    color='black', lw=3.5, shrinkA=0, shrinkB=0,
                                    mutation_scale=22))


# ---------------- 1a ----------------
header(91, 62, '1a', 'Eastern Equine Encephalitis / Channel 2')
ax = make_axes((203, 156, 1287, 665), (0, 46), (-2, 26), np.arange(0, 47, 2),
               np.arange(-2, 26.1, 2), '%d', '%.1f')
for i, rise in enumerate(lod_1a_rise):
    ax.plot(cycles, lod_1a_base[i % 2] + rise, color=BLUE, lw=1.4)
ax.plot(cycles, yellow_1a, color=YELLOW, lw=2.0, marker='D', ms=5)
ax.plot(cycles, red_1a, color=RED, lw=2.0, marker='D', ms=6)
ax.plot(cycles, vee_1a, color=GREEN, lw=2.0, marker='D', ms=5)
ax.plot(cycles, eee5_1a, color=BLUE, lw=2.4, marker='D', ms=7)
ax.plot(cycles, mpx_1a, color=BLACK, lw=2.4, marker='o', ms=6.5)
note(ax, 'Multiplex 5ng each\nEEE, VEE and WEE', (17.7, 23.4), (24.7, 23.1), (29.7, 23.1))
note(ax, 'EEE 5ng', (34.2, 18.2), (34.35, 17.0), (34.35, 13.8))
note(ax, 'EEE LOD 5pg', (33.3, 10.6), (30.9, 9.6), (33.5, 5.35))
note(ax, 'VEE', (42.45, 2.7), (41.05, 2.3), (39.7, 0.65))
labels('Cycle Number', (751, 739), 'Fluorescence (F2)', (80, 414))

# ---------------- 1b ----------------
header(1494, 62, '1b', 'Melting Peaks of EEE')
ax = make_axes((1577, 157, 2648, 663), (42, 76), (-0.5, 5.0), np.arange(42, 76.1, 2),
               np.arange(-0.5, 5.01, 0.5), '%.1f', '%.1f')
for i, peak in enumerate(lod_1b_peak):
    ax.plot(t_1b_lod, lod_1b_base[i % 3] + peak + lod_1b_tail, color=BLUE, lw=1.0)
ax.plot(t_1b_coarse, yellow_1b, color=YELLOW, lw=3.0, marker='D', ms=5)
ax.plot(t_1b_coarse, red_1b, color=RED, lw=3.0, marker='D', ms=5)
ax.plot(t_1b, vee_1b, color=GREEN, lw=2.0, marker='D', ms=6)
ax.plot(t_1b, eee5_1b, color=BLUE, lw=2.0, marker='D', ms=6)
ax.plot(t_1b, mpx_1b, color=BLACK, lw=1.5, marker='o', ms=6)
note(ax, 'Multiplex', (58.3, 5.27), (56.06, 5.11), (53.43, 4.53))
note(ax, '', (60.5, 5.1), (60.54, 5.11), (63.22, 4.53))
note(ax, 'EEE 5ng', (69.84, 3.62), (67.64, 3.54), (65.36, 3.06))
note(ax, 'EEE LOD 5pg', (72.53, 2.68), (69.04, 2.54), (66.17, 1.9))
labels('Temperature (\u00baC)', (2122, 734), 'Fluorescence -d(F2)/dT', (1457, 417))

# ---------------- 2a ----------------
header(91, 913, '2a', 'Venezuelan Equine Encephalitis / Channel 2')
ax = make_axes((203, 1008, 1298, 1523), (0, 46), (-2, 22), np.arange(0, 47, 2),
               np.arange(-2, 22.1, 2), '%d', '%.1f')
for rise in lod_2a_rise:
    ax.plot(cycles, lod_2a_base + rise, color=GREEN, lw=2.2)
ax.plot(cycles, yellow_2a, color=YELLOW, lw=1.5, marker='D', ms=5)
ax.plot(cycles, red_2a, color=RED, lw=1.3, marker='o', ms=5.5)
ax.plot(cycles, vee_mark_2a, color=GREEN, lw=1.3, marker='D', ms=5.5)
ax.plot(cycles, mpx_2a, color=BLACK, lw=1.3, marker='o', ms=5.5)
ax.plot(cycles, eee5_2a, color=BLUE, lw=1.3, marker='D', ms=5.5)
note(ax, 'EEE 5ng', (24.2, 20.56), (27.2, 20.56), (31.8, 20.4))
note(ax, 'Multiplex 5ng each\nEEE, VEE and WEE', (38.1, 13.75), (37.3, 15.46), (37.3, 18.6))
note(ax, 'VEE LOD 5pg', (37.16, 7.3), (37.1, 6.05), (37.1, 2.0))
labels('Cycle Number', (757, 1596), 'Fluorescence (F2)', (80, 1269))

# ---------------- 2b ----------------
header(1494, 913, '2b', 'Melting Peaks of VEE')
ax = make_axes((1579, 1007, 2661, 1516), (42, 82), (-0.2, 4.2), np.arange(42, 82.1, 2),
               [-0.2, 0.0, 0.5, 1.0, 1.5, 2.0, 2.5, 3.0, 3.5, 4.0, 4.2], '%.1f', '%.1f')
for peak in lod_2b_peak:
    ax.plot(t_2b_lod, peak + lod_2b_tail, color=GREEN, lw=1.0)
ax.plot(t_2b_coarse, yellow_2b, color=YELLOW, lw=3.0, marker='D', ms=5)
ax.plot(t_2b_coarse, red_2b, color=RED, lw=3.0, marker='D', ms=5)
ax.plot(t_2b, vee5_2b, color=GREEN, lw=2.0, marker='D', ms=6)
ax.plot(t_2b, mpx_2b, color=BLACK, lw=1.5, marker='D', ms=6)
ax.plot(t_2b, eee5_2b, color=BLUE, lw=2.0, marker='D', ms=6)
note(ax, 'VEE 5ng', (46.19, 4.22), (47.35, 4.05), (49.76, 3.84))
note(ax, 'Multiplex', (58.6, 4.24), (56.9, 4.03), (55.07, 3.62))
note(ax, '', (60.4, 4.0), (60.45, 4.03), (62.33, 3.61))
note(ax, 'EEE 5ng', (72.5, 4.0), (69.84, 3.88), (66.02, 3.76))
note(ax, 'VEE\nLOD\n5pg', (57.98, 2.39), (56.33, 2.66), (52.57, 2.25))
labels('Temperature (\u00baC)', (2129, 1589), 'Fluorescence -d(F2)/dT', (1457, 1269))

# ---------------- 3a ----------------
header(91, 1764, '3a', 'Western Equine Encephalitis / Channel 3')
ax = make_axes((206, 1866, 1278, 2380), (0, 46), (-0.6, 2.8), np.arange(0, 47, 2),
               np.arange(-0.6, 2.81, 0.2), '%d', '%.1f')
for i, rise in enumerate(lod_3a_rise):
    ax.plot(cycles, lod_3a_base[i % 3] + rise, color=RED, lw=0.9)
ax.plot(cycles, yellow_3a, color=YELLOW, lw=1.3, marker='D', ms=5.5)
ax.plot(cycles, green_3a, color=GREEN, lw=1.3, marker='D', ms=5.5)
ax.plot(cycles, blue_3a, color=BLUE, lw=1.3, marker='D', ms=5.5)
ax.plot(cycles, mpx_3a, color=BLACK, lw=1.3, marker='D', ms=5.5)
ax.plot(cycles, wee5_3a, color=RED, lw=1.3, marker='o', ms=5.5)
note(ax, 'WEE 5ng', (26.0, 2.81), (29.5, 2.77), (34.4, 2.57))
note(ax, 'Multiplex 5ng each\nEEE, VEE and WEE', (21.1, 1.97), (27.5, 1.94), (32.7, 1.94))
note(ax, 'WEE LOD 50pg', (21.8, 1.22), (26.9, 1.16), (33.97, 1.16))
labels('Cycle Number', (751, 2452), 'Fluorescence (F3)', (81, 2128))

# ---------------- 3b ----------------
header(1494, 1764, '3b', 'Melting Peaks of WEE')
ax = make_axes((1579, 1868, 2634, 2380), (42, 90), (-0.2, 0.9), np.arange(42, 90.1, 2),
               np.arange(-0.2, 0.91, 0.1), '%.1f', '%.1f')
for i, peak in enumerate(lod_3b_peak):
    ax.plot(t_3b_lod, lod_3b_pre[i % 3] + peak + lod_3b_post[i % 3], color=RED, lw=1.0)
ax.plot(t_3b_coarse, yellow_3b, color=YELLOW, lw=3.5, marker='o', ms=5)
ax.plot(t_3b_coarse, green_3b, color=GREEN, lw=3.5, marker='o', ms=5)
ax.plot(t_3b_coarse, blue_3b, color=BLUE, lw=3.5, marker='o', ms=5)
ax.plot(t_3b, mpx_3b, color=BLACK, lw=1.5, marker='o', ms=6)
ax.plot(t_3b, wee5_3b, color=RED, lw=1.5, marker='o', ms=6)
note(ax, 'WEE 5ng', (71.3, 0.907), (67.7, 0.91), (61.0, 0.85))
note(ax, 'Multiplex 5ng', (72.6, 0.637), (67.8, 0.655), (61.0, 0.75))
note(ax, 'WEE LOD 50pg', (73.3, 0.39), (67.8, 0.39), (62.3, 0.51))
labels('Temperature (\u00baC)', (2119, 2452), 'Fluorescence -d(F3)/dT', (1457, 2131))

fig.savefig('out.png', dpi=100, facecolor='white')
